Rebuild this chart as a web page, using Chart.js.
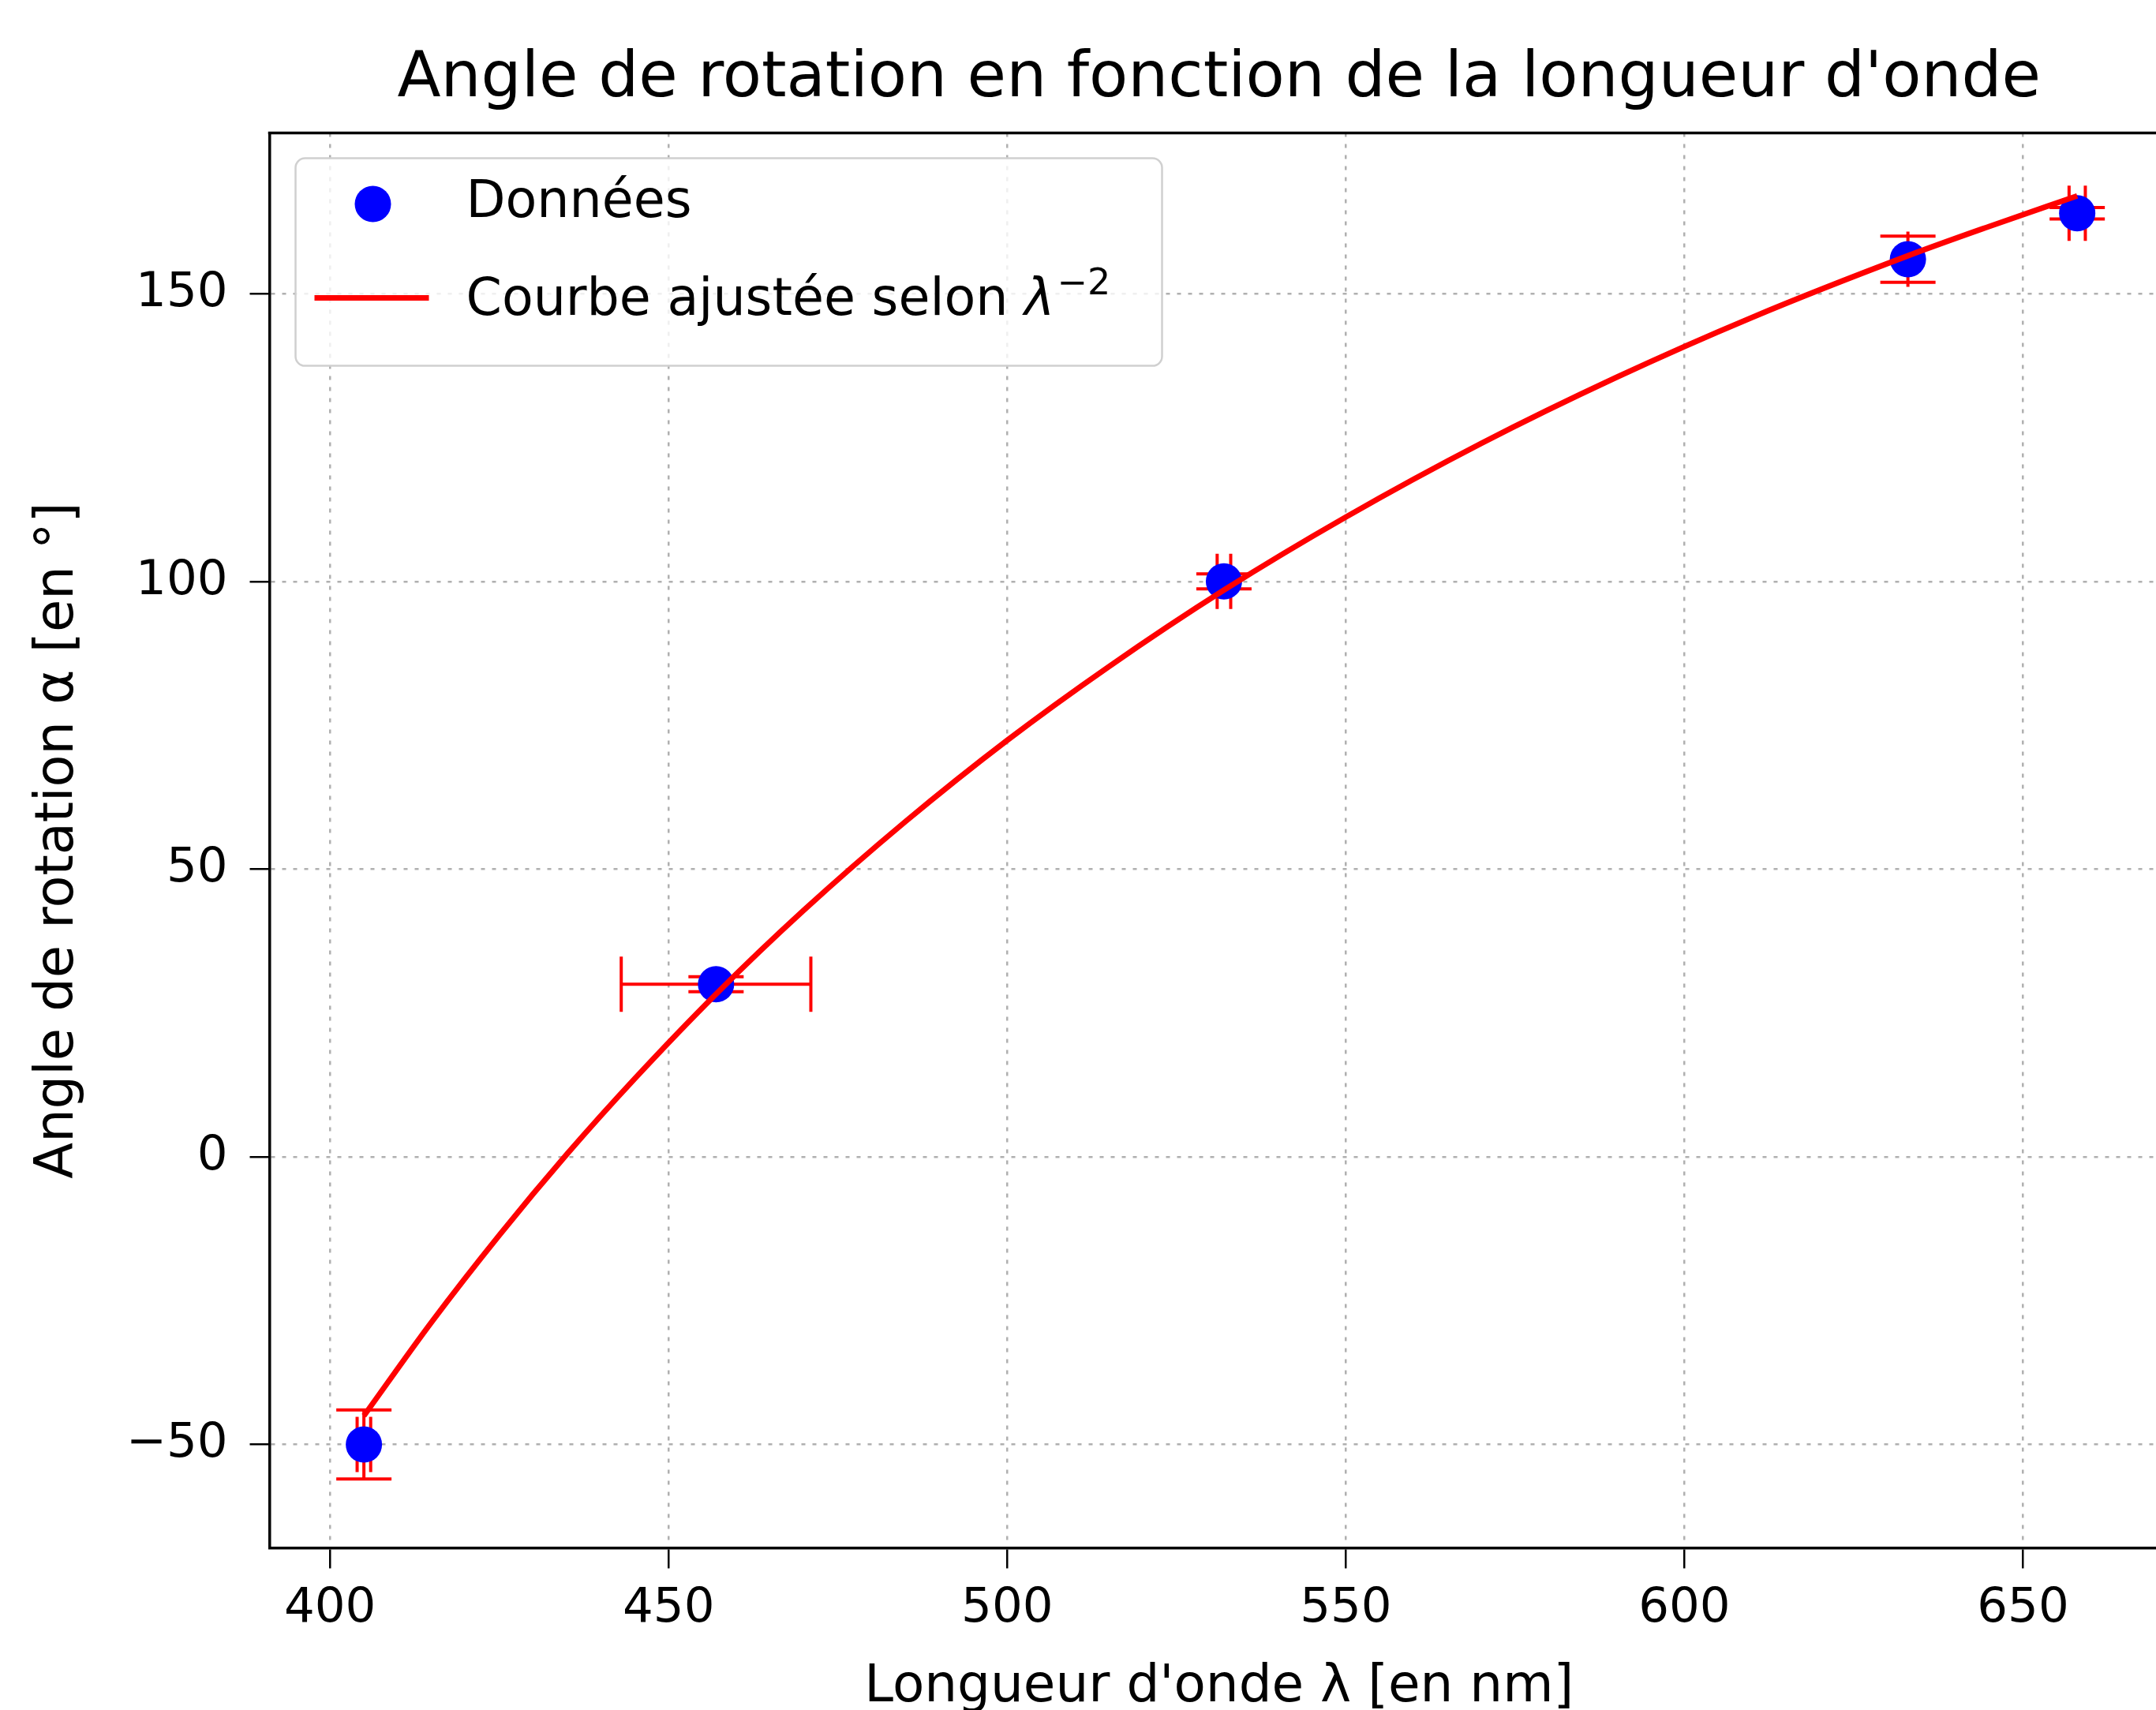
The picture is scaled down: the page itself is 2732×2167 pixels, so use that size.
<!DOCTYPE html>
<html>
<head>
<meta charset="utf-8">
<title>Angle de rotation en fonction de la longueur d'onde</title>
<script src="https://cdn.jsdelivr.net/npm/chart.js@4.4.1/dist/chart.umd.min.js"></script>
<style>
  html, body { margin: 0; padding: 0; background: #fff; overflow: hidden; }
  canvas { display: block; }
</style>
</head>
<body>
<!-- le cadre de droite tombe juste hors de la fenêtre, comme sur la figure d'origine -->
<canvas id="rotationChart" width="2748" height="2167"></canvas>
<script>
// points de mesure
const wavelengths = [405, 457, 532, 633, 658];
const angles = [-50, 30, 100, 156, 164];
const wavelengthErr = [1, 14, 1, 0, 1.2];
const angleErr = [6, 1.3, 1.3, 4, 1];

// courbe ajustée
const fitWavelengths = [405, 415, 425, 435, 445, 457, 470, 485, 500, 515, 532, 550, 570, 590, 610, 633, 645, 658];
const fitAngles = [-45.0, -28.7, -13.6, 0.5, 13.6, 28.3, 42.9, 58.3, 72.4, 85.2, 98.5, 111.2, 124.0, 135.5, 145.9, 156.6, 161.7, 167.0];

const xTicks = [400, 450, 500, 550, 600, 650];
const yTicks = [-50, 0, 50, 100, 150];

Chart.defaults.font.family = "'DejaVu Sans', sans-serif";
Chart.defaults.color = '#000';

const FONT = "'DejaVu Sans', sans-serif";

function minusSign(v) {
    return String(v).replace('-', '\u2212');
}

// barres d'erreur, sous les marqueurs
const errorBars = {
    id: 'errorBars',
    beforeDatasetsDraw(chart) {
        const { ctx, chartArea, scales: { x, y } } = chart;
        const cap = 35;
        ctx.save();
        ctx.beginPath();
        ctx.rect(chartArea.left, chartArea.top, chartArea.width, chartArea.height);
        ctx.clip();
        ctx.strokeStyle = '#ff0000';
        ctx.lineWidth = 4;
        wavelengths.forEach((w, i) => {
            const px = x.getPixelForValue(w);
            const py = y.getPixelForValue(angles[i]);
            const x0 = x.getPixelForValue(w - wavelengthErr[i]);
            const x1 = x.getPixelForValue(w + wavelengthErr[i]);
            const y0 = y.getPixelForValue(angles[i] - angleErr[i]);
            const y1 = y.getPixelForValue(angles[i] + angleErr[i]);
            ctx.beginPath();
            ctx.moveTo(x0, py); ctx.lineTo(x1, py);
            ctx.moveTo(px, y0); ctx.lineTo(px, y1);
            ctx.moveTo(x0, py - cap); ctx.lineTo(x0, py + cap);
            ctx.moveTo(x1, py - cap); ctx.lineTo(x1, py + cap);
            ctx.moveTo(px - cap, y0); ctx.lineTo(px + cap, y0);
            ctx.moveTo(px - cap, y1); ctx.lineTo(px + cap, y1);
            ctx.stroke();
        });
        ctx.restore();
    }
};

function roundRect(ctx, x, y, w, h, r) {
    ctx.beginPath();
    ctx.moveTo(x + r, y);
    ctx.arcTo(x + w, y, x + w, y + h, r);
    ctx.arcTo(x + w, y + h, x, y + h, r);
    ctx.arcTo(x, y + h, x, y, r);
    ctx.arcTo(x, y, x + w, y, r);
    ctx.closePath();
}

// légende dans le cadre, en haut à gauche
const insideLegend = {
    id: 'insideLegend',
    afterDatasetsDraw(chart) {
        const { ctx, chartArea } = chart;
        const bx = chartArea.left + 33, by = chartArea.top + 32;
        const bw = 1098, bh = 263;
        ctx.save();
        roundRect(ctx, bx, by, bw, bh, 12);
        ctx.fillStyle = 'rgba(255,255,255,0.8)';
        ctx.fill();
        ctx.strokeStyle = '#d0d0d0';
        ctx.lineWidth = 2.5;
        ctx.stroke();

        const points = chart.data.datasets[1];
        const fit = chart.data.datasets[0];
        const textX = bx + 216;

        // Données
        ctx.fillStyle = points.pointBackgroundColor;
        ctx.beginPath();
        ctx.arc(bx + 98, by + 58, points.pointRadius, 0, Math.PI * 2);
        ctx.fill();
        ctx.fillStyle = '#000';
        ctx.textBaseline = 'middle';
        ctx.textAlign = 'left';
        ctx.font = '65px ' + FONT;
        ctx.fillText(points.label, textX, by + 58);

        // Courbe ajustée
        const ly = by + 177;
        ctx.strokeStyle = fit.borderColor;
        ctx.lineWidth = fit.borderWidth;
        ctx.beginPath();
        ctx.moveTo(bx + 24, ly);
        ctx.lineTo(bx + 169, ly);
        ctx.stroke();

        ctx.textBaseline = 'alphabetic';
        const base = ly + 21;
        let cx = textX;
        const main = 'Courbe ajustée selon ';
        ctx.fillText(main, cx, base);
        cx += ctx.measureText(main).width;
        ctx.font = 'italic 65px ' + FONT;
        ctx.fillText('\u03bb', cx, base);
        cx += ctx.measureText('\u03bb').width + 3;
        ctx.font = '46px ' + FONT;
        ctx.fillText('\u22122', cx, base - 26);
        ctx.restore();
    },
    afterDraw(chart) {
        // cadre du haut
        const { ctx, chartArea } = chart;
        ctx.save();
        ctx.strokeStyle = '#000';
        ctx.lineWidth = 3.5;
        ctx.beginPath();
        ctx.moveTo(chartArea.left - 1.75, chartArea.top);
        ctx.lineTo(chartArea.right, chartArea.top);
        ctx.stroke();
        ctx.restore();
    }
};

const ctx = document.getElementById('rotationChart').getContext('2d');
const chart = new Chart(ctx, {
    type: 'scatter',
    data: {
        datasets: [{
            type: 'line',
            label: 'Courbe ajustée selon \u03bb\u207b\u00b2',
            data: fitWavelengths.map((w, i) => ({ x: w, y: fitAngles[i] })),
            borderColor: '#ff0000',
            borderWidth: 7,
            pointRadius: 0,
            fill: false,
            showLine: true,
            cubicInterpolationMode: 'monotone',
            order: 0
        }, {
            label: 'Données',
            data: wavelengths.map((w, i) => ({ x: w, y: angles[i] })),
            pointBackgroundColor: '#0000ff',
            pointBorderColor: '#0000ff',
            pointBorderWidth: 0,
            pointRadius: 23,
            order: 1
        }]
    },
    options: {
        responsive: false,
        animation: false,
        devicePixelRatio: 1,
        events: [],
        layout: { padding: 0, autoPadding: false },
        plugins: {
            legend: { display: false },
            tooltip: { enabled: false },
            title: {
                display: true,
                fullSize: false,
                text: "Angle de rotation en fonction de la longueur d'onde",
                font: { size: 80.5, weight: 'normal' },
                color: '#000',
                padding: { top: 52.5, bottom: 19.5 }
            }
        },
        scales: {
            x: {
                type: 'linear',
                min: 391.06,
                max: 671.5,
                afterBuildTicks: s => { s.ticks = xTicks.map(v => ({ value: v })); },
                afterFit: s => { s.height = 205.5; s.paddingLeft = 0; s.paddingRight = 0; },
                ticks: { font: { size: 61 }, color: '#000', padding: 15, callback: minusSign },
                grid: { color: '#b0b0b0', lineWidth: 2.5, tickLength: 26, tickColor: '#000', tickWidth: 2.5 },
                border: { display: true, color: '#000', width: 3.5, dash: [5, 9] },
                title: {
                    display: true,
                    text: "Longueur d'onde \u03bb [en nm]",
                    font: { size: 66, lineHeight: 0.9 },
                    color: '#000',
                    padding: { top: 0, bottom: -2 }
                }
            },
            y: {
                type: 'linear',
                min: -67.95,
                max: 177.93,
                afterBuildTicks: s => { s.ticks = yTicks.map(v => ({ value: v })); },
                afterFit: s => { s.width = 341.5; },
                ticks: { font: { size: 61 }, color: '#000', padding: 28, callback: minusSign },
                grid: { color: '#b0b0b0', lineWidth: 2.5, tickLength: 25, tickColor: '#000', tickWidth: 2.5 },
                border: { display: true, color: '#000', width: 3.5, dash: [5, 9] },
                title: {
                    display: true,
                    text: 'Angle de rotation \u03b1 [en \u00b0]',
                    font: { size: 67 },
                    color: '#000',
                    padding: { top: 34.5, bottom: 0 }
                }
            }
        }
    },
    plugins: [errorBars, insideLegend]
});
</script>
</body>
</html>
